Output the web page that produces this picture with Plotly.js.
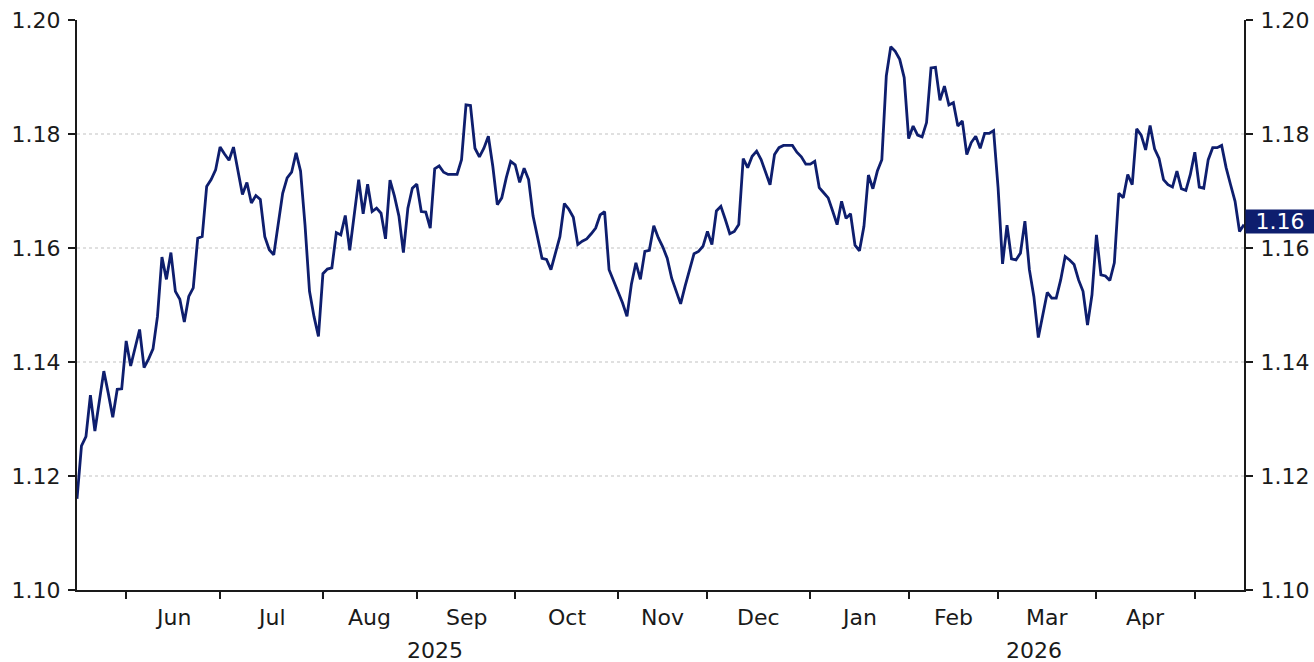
<!DOCTYPE html>
<html>
<head>
<meta charset="utf-8">
<script src="https://cdn.plot.ly/plotly-3.0.1.min.js"></script>
<style>
  html, body { margin: 0; padding: 0; background: #fff; }
  #chart { width: 1314px; height: 662px; }
</style>
</head>
<body>
<div id="chart"></div>
<script>
// Daily closes, one array per month (business days only)
var may25 = [1.1160, 1.1253, 1.1269, 1.1342, 1.1279, 1.1335, 1.1384, 1.1345, 1.1303, 1.1352, 1.1353];
var jun25 = [1.1437, 1.1393, 1.1425, 1.1457, 1.1390, 1.1405, 1.1423, 1.1480, 1.1584, 1.1545, 1.1592,
             1.1524, 1.1510, 1.1470, 1.1515, 1.1530, 1.1617, 1.1620, 1.1708, 1.1720, 1.1737];
var jul25 = [1.1777, 1.1765, 1.1754, 1.1777, 1.1737, 1.1694, 1.1715, 1.1679, 1.1692, 1.1685, 1.1620,
             1.1597, 1.1588, 1.1644, 1.1696, 1.1723, 1.1733, 1.1767, 1.1735, 1.1640, 1.1524, 1.1480, 1.1445];
var aug25 = [1.1555, 1.1563, 1.1565, 1.1627, 1.1623, 1.1657, 1.1596, 1.1658, 1.1720, 1.1660, 1.1712,
             1.1664, 1.1670, 1.1661, 1.1616, 1.1719, 1.1691, 1.1656, 1.1592, 1.1670, 1.1705];
var sep25 = [1.1712, 1.1664, 1.1663, 1.1635, 1.1739, 1.1744, 1.1733, 1.1729, 1.1729, 1.1729, 1.1755,
             1.1851, 1.1850, 1.1775, 1.1760, 1.1775, 1.1796, 1.1743, 1.1676, 1.1688, 1.1723, 1.1752];
var oct25 = [1.1746, 1.1715, 1.1740, 1.1720, 1.1656, 1.1618, 1.1582, 1.1580, 1.1562, 1.1591, 1.1620,
             1.1678, 1.1668, 1.1654, 1.1606, 1.1612, 1.1616, 1.1625, 1.1635, 1.1658, 1.1664, 1.1562, 1.1542];
var nov25 = [1.1524, 1.1504, 1.1480, 1.1537, 1.1574, 1.1545, 1.1594, 1.1596, 1.1639, 1.1618,
             1.1602, 1.1582, 1.1547, 1.1524, 1.1502, 1.1533, 1.1562, 1.1590, 1.1594, 1.1603];
var dec25 = [1.1629, 1.1606, 1.1665, 1.1673, 1.1650, 1.1625, 1.1629, 1.1641, 1.1757, 1.1741, 1.1761,
             1.1770, 1.1755, 1.1732, 1.1711, 1.1764, 1.1776, 1.1780, 1.1780, 1.1780, 1.1768, 1.1760, 1.1747];
var jan26 = [1.1747, 1.1752, 1.1706, 1.1697, 1.1688, 1.1665, 1.1641, 1.1682, 1.1652, 1.1660, 1.1605,
             1.1595, 1.1638, 1.1728, 1.1704, 1.1735, 1.1755, 1.1902, 1.1953, 1.1945, 1.1931, 1.1899];
var feb26 = [1.1792, 1.1814, 1.1798, 1.1795, 1.1820, 1.1916, 1.1917, 1.1859, 1.1884, 1.1851,
             1.1855, 1.1814, 1.1823, 1.1764, 1.1785, 1.1796, 1.1775, 1.1801, 1.1801, 1.1806];
var mar26 = [1.1706, 1.1572, 1.1640, 1.1581, 1.1579, 1.1591, 1.1647, 1.1562, 1.1515, 1.1443, 1.1486,
             1.1522, 1.1512, 1.1512, 1.1544, 1.1585, 1.1579, 1.1571, 1.1544, 1.1524, 1.1465, 1.1518];
var apr26 = [1.1623, 1.1553, 1.1551, 1.1543, 1.1574, 1.1696, 1.1688, 1.1729, 1.1711, 1.1809, 1.1798,
             1.1772, 1.1815, 1.1774, 1.1757, 1.1720, 1.1711, 1.1707, 1.1735, 1.1704, 1.1701, 1.1729];
var may26 = [1.1768, 1.1707, 1.1705, 1.1755, 1.1776, 1.1776, 1.1780, 1.1741, 1.1711, 1.1682, 1.1629, 1.1641];

var startDate = '2025-05-16';
var monthLabels = ['Jun', 'Jul', 'Aug', 'Sep', 'Oct', 'Nov', 'Dec', 'Jan', 'Feb', 'Mar', 'Apr'];
var yearLabels = ['2025', '2026'];
var yearLabelDates = ['2025-09-05', '2026-03-12'];
var yTicks = [1.10, 1.12, 1.14, 1.16, 1.18, 1.20];

var navy = '#0e1e6e';
var ink = '#1a1a1a';
var fontFamily = 'DejaVu Sans, Verdana, sans-serif';

var values = [].concat(may25, jun25, jul25, aug25, sep25, oct25, nov25, dec25,
                       jan26, feb26, mar26, apr26, may26);

// business-day calendar from the start date
function pad(n) { return (n < 10 ? '0' : '') + n; }
function fmt(d) { return d.getUTCFullYear() + '-' + pad(d.getUTCMonth() + 1) + '-' + pad(d.getUTCDate()); }

var dates = [];
var d = new Date(startDate + 'T00:00:00Z');
while (dates.length < values.length) {
    var wd = d.getUTCDay();
    if (wd !== 0 && wd !== 6) dates.push(fmt(d));
    d.setUTCDate(d.getUTCDate() + 1);
}

// first business day of each month -> tick marks
var monthStartIdx = [];
for (var i = 1; i < dates.length; i++) {
    if (dates[i].slice(0, 7) !== dates[i - 1].slice(0, 7)) monthStartIdx.push(i);
}
var monthStarts = monthStartIdx.map(function (k) { return dates[k]; });

// date at a fractional business-day index
function dateAt(idx) {
    var k = Math.floor(idx);
    var t = new Date(dates[k] + 'T00:00:00Z').getTime() + (idx - k) * 86400000;
    return new Date(t).toISOString().slice(0, 16).replace('T', ' ');
}

var annotations = [];
for (var m = 0; m < monthLabels.length; m++) {
    annotations.push({
        x: dateAt((monthStartIdx[m] + monthStartIdx[m + 1]) / 2), xref: 'x',
        y: 0, yref: 'paper', yanchor: 'middle', yshift: -27,
        text: monthLabels[m], showarrow: false,
        font: { family: fontFamily, size: 22, color: ink }
    });
}
for (var y = 0; y < yearLabels.length; y++) {
    annotations.push({
        x: yearLabelDates[y], xref: 'x',
        y: 0, yref: 'paper', yanchor: 'middle', yshift: -60,
        text: yearLabels[y], showarrow: false,
        font: { family: fontFamily, size: 22, color: ink }
    });
}

// last value tag on the right axis
var last = values[values.length - 1];
annotations.push({
    x: 1, xref: 'paper', xanchor: 'left', xshift: 1,
    y: last, yref: 'y', yanchor: 'middle', yshift: 3,
    text: last.toFixed(2), showarrow: false,
    width: 68, height: 23, borderpad: 0,
    bgcolor: navy,
    font: { family: fontFamily, size: 22, color: '#ffffff' }
});

var series = {
    x: dates,
    y: values,
    type: 'scatter',
    mode: 'lines',
    line: { color: navy, width: 2.8 },
    hoverinfo: 'skip',
    showlegend: false
};

// empty trace so the right axis gets drawn
var rightAxisHolder = {
    x: [dates[0]],
    y: [null],
    yaxis: 'y2',
    type: 'scatter',
    mode: 'lines',
    hoverinfo: 'skip',
    showlegend: false
};

var yCommon = {
    range: [1.10, 1.20],
    tickvals: yTicks,
    tickformat: '.2f',
    ticks: 'outside',
    ticklen: 7,
    tickwidth: 2,
    tickcolor: ink,
    showline: true,
    linecolor: ink,
    linewidth: 2,
    zeroline: false,
    fixedrange: true,
    ticklabelstandoff: 3,
    tickfont: { family: fontFamily, size: 22, color: ink }
};

var layout = {
    width: 1314,
    height: 662,
    margin: { l: 77, r: 70, t: 20, b: 72 },
    paper_bgcolor: '#ffffff',
    plot_bgcolor: '#ffffff',
    showlegend: false,
    xaxis: {
        type: 'date',
        range: [dates[0], dates[dates.length - 1]],
        rangebreaks: [{ bounds: ['sat', 'mon'] }],
        tickvals: monthStarts,
        showticklabels: false,
        ticks: 'outside',
        ticklen: 7,
        tickwidth: 2,
        tickcolor: ink,
        showline: true,
        linecolor: ink,
        linewidth: 2,
        showgrid: false,
        zeroline: false,
        fixedrange: true
    },
    yaxis: Object.assign({}, yCommon, {
        side: 'left',
        showgrid: true,
        gridcolor: '#e0e0e0',
        gridwidth: 1.5,
        griddash: 'dot'
    }),
    yaxis2: Object.assign({}, yCommon, {
        side: 'right',
        overlaying: 'y',
        showgrid: false
    }),
    annotations: annotations
};

Plotly.newPlot('chart', [series, rightAxisHolder], layout, { displayModeBar: false, staticPlot: true });
</script>
</body>
</html>
